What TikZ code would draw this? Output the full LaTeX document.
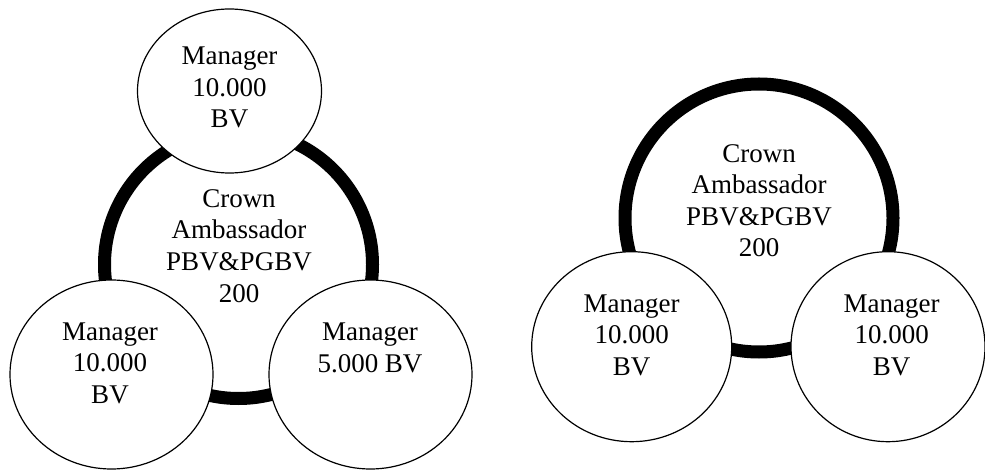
\documentclass[tikz,border=0pt]{standalone}
\usepackage{fontspec}
\setmainfont{Liberation Serif}
\usetikzlibrary{shapes.geometric}
\begin{document}
\begin{tikzpicture}[x=1pt,y=-1pt,
  ringc/.style={circle,draw=black,line width=13pt,minimum size=268pt,inner sep=0pt},
  member/.style={ellipse,draw=black,fill=white,line width=1.2pt,inner sep=0pt},
  lbl/.style={align=center,anchor=base,inner sep=0pt,font=\fontsize{27}{31.5}\selectfont}]
\useasboundingbox (0,0) rectangle (985,470);
% left diagram
\node[ringc] (ringL) at (238.5,264.5) {};
\node[member,minimum width=184pt,minimum height=164pt] (topL) at (229.5,91) {};
\node[member,minimum width=203pt,minimum height=189pt] (blL) at (111.5,374.5) {};
\node[member,minimum width=203pt,minimum height=189pt] (brL) at (370.5,374.5) {};
\node[lbl] (tTopL) at (229.5,128) {Manager\\10.000\\BV};
\node[lbl] (tCenL) at (239,302) {Crown\\Ambassador\\PBV\&PGBV\\200};
\node[lbl] (tBlL) at (110,403) {Manager\\10.000\\BV};
\node[lbl] (tBrL) at (370,372) {Manager\\5.000 BV};
% right diagram
\node[ringc] (ringR) at (759,218) {};
\node[member,minimum width=200pt,minimum height=190pt] (blR) at (631.7,346.7) {};
\node[member,minimum width=194pt,minimum height=190pt] (brR) at (888,346.7) {};
\node[lbl] (tCenR) at (759,257) {Crown\\Ambassador\\PBV\&PGBV\\200};
\node[lbl] (tBlR) at (631.7,375) {Manager\\10.000\\BV};
\node[lbl] (tBrR) at (891.7,375) {Manager\\10.000\\BV};
\end{tikzpicture}
\end{document}
